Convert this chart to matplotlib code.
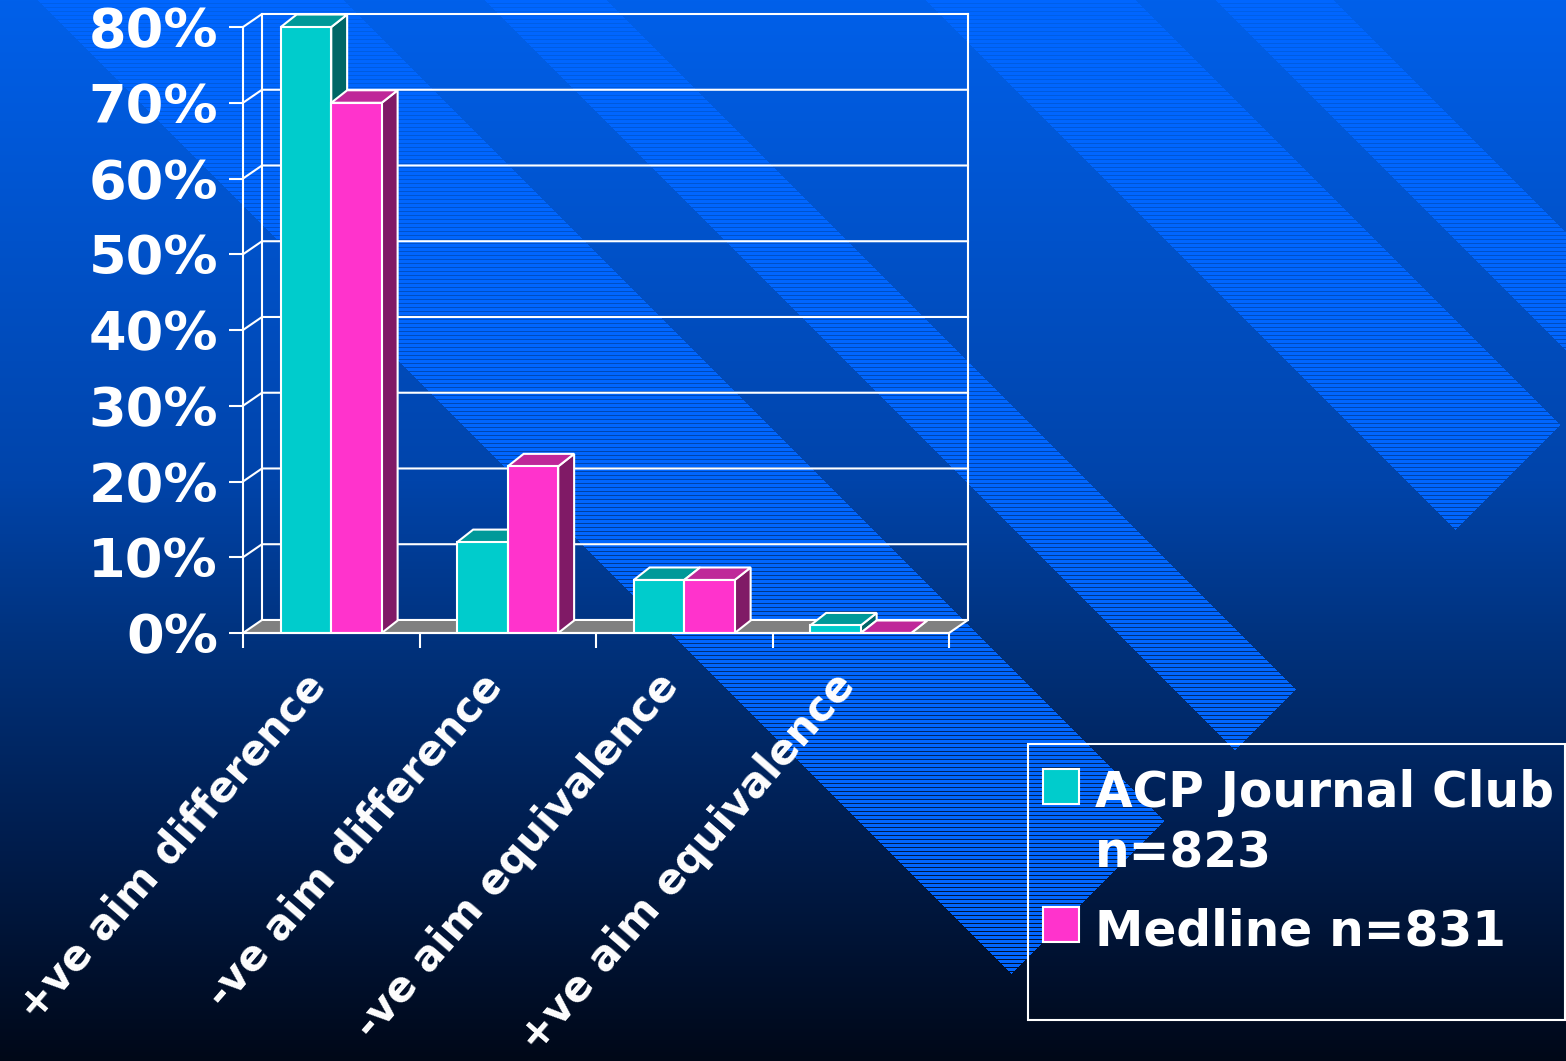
import numpy as np
import matplotlib
matplotlib.use('Agg')
import matplotlib.pyplot as plt
from matplotlib.patches import Polygon, Rectangle

categories = ['+ve aim difference', '-ve aim difference',
              '-ve aim equivalence', '+ve aim equivalence']
series_names = ['ACP Journal Club\nn=823', 'Medline n=831']
acp_values = [80, 12, 7, 1]
medline_values = [70, 22, 7, 0]
y_ticks = [0, 10, 20, 30, 40, 50, 60, 70, 80]

# front / top / side shades of each series
series_colors = [('#00CCCC', '#009999', '#006666'),
                 ('#FF33CC', '#BF2899', '#801A66')]

W, H = 1566, 1061
BAR_W = 0.286          # bar width in category units
BAR_DX, BAR_DY = 0.09, 1.65     # bar depth
WALL_DX, WALL_DY = 0.1075, 1.72  # back wall offset
LW = 1.5

plt.rcParams['font.family'] = ['DejaVu Sans']
plt.rcParams['font.weight'] = 'bold'


def make_background():
    yy, xx = np.mgrid[0:H, 0:W]
    rows = np.arange(H)
    stops = [0, 480, 640, 850, H - 1]
    green = np.interp(rows, stops, [96, 68, 50, 28, 8])
    blue = np.interp(rows, stops, [234, 170, 125, 75, 24])
    img = np.zeros((H, W, 3))
    img[..., 1] = green[:, None]
    img[..., 2] = blue[:, None]

    # diagonal striped bands, cut off along x + y = const
    u = xx - yy
    v = xx + yy
    band = np.zeros((H, W), bool)
    for lo, hi in [(38, 344), (485, 607), (926, 1136), (1216, 1334)]:
        band |= (u >= lo) & (u < hi)
    band &= v < 1985
    img[band & (yy % 4 != 3)] = [0, 102, 255]
    return img / 255


def draw_box_faces(ax, x0, value, colors, z):
    front, top, side = colors
    x1 = x0 + BAR_W
    ax.add_patch(Polygon([(x1, 0), (x1 + BAR_DX, BAR_DY),
                          (x1 + BAR_DX, value + BAR_DY), (x1, value)],
                         fc=side, ec='white', lw=LW, zorder=z))
    ax.add_patch(Polygon([(x0, value), (x1, value),
                          (x1 + BAR_DX, value + BAR_DY), (x0 + BAR_DX, value + BAR_DY)],
                         fc=top, ec='white', lw=LW, zorder=z))


fig = plt.figure(figsize=(W / 100, H / 100), dpi=100)

bg = fig.add_axes([0, 0, 1, 1])
bg.imshow(make_background(), aspect='auto', interpolation='nearest')
bg.axis('off')

ax = fig.add_axes([243 / W, (H - 633) / H, 725 / W, 619 / H])
ax.patch.set_visible(False)
n = len(categories)
ax.set_xlim(0, n + WALL_DX)
ax.set_ylim(0, y_ticks[-1] + WALL_DY)

# back wall and gridlines
top = y_ticks[-1] + WALL_DY
ax.plot([WALL_DX, WALL_DX], [WALL_DY, top], color='white', lw=LW, zorder=1, clip_on=False)
ax.plot([n + WALL_DX, n + WALL_DX], [WALL_DY, top], color='white', lw=LW, zorder=1, clip_on=False)
for t in y_ticks[1:]:
    ax.plot([0, WALL_DX, n + WALL_DX], [t, t + WALL_DY, t + WALL_DY],
            color='white', lw=LW, zorder=1, clip_on=False)

# floor
ax.add_patch(Polygon([(0, 0), (n, 0), (n + WALL_DX, WALL_DY), (WALL_DX, WALL_DY)],
                     fc='#808080', ec='white', lw=LW, zorder=1.5, clip_on=False))

# bars
x = np.arange(n)
for k, (vals, colors) in enumerate(zip([acp_values, medline_values], series_colors)):
    left = x + 0.5 - BAR_W + k * BAR_W
    for x0, v in zip(left, vals):
        draw_box_faces(ax, x0, v, colors, 2 + 2 * k)
    ax.bar(left, vals, width=BAR_W, align='edge', color=colors[0],
           edgecolor='white', linewidth=LW, zorder=3 + 2 * k)

# axes
for side in ['top', 'right']:
    ax.spines[side].set_visible(False)
ax.spines['left'].set_bounds(0, y_ticks[-1])
ax.spines['bottom'].set_bounds(0, n)
for side in ['left', 'bottom']:
    ax.spines[side].set_color('white')
    ax.spines[side].set_linewidth(LW)
    ax.spines[side].set_zorder(6)

ax.set_yticks(y_ticks, labels=[f'{t}%' for t in y_ticks])
ax.tick_params(axis='y', colors='white', length=10, width=LW, pad=8, labelsize=39)
ax.set_xticks(np.arange(n + 1), labels=[''] * (n + 1))
ax.tick_params(axis='x', colors='white', length=11, width=LW)

for i, name in enumerate(categories):
    ax.annotate(name, xy=(i + 0.5, 0), xycoords='data', xytext=(-13, -46),
                textcoords='offset pixels', rotation=49, rotation_mode='anchor',
                ha='right', va='center', fontsize=30, color='white',
                annotation_clip=False)

# legend box
def fx(px):
    return px / W


def fy(py):
    return 1 - py / H


fig.patches.append(Rectangle((fx(1028), fy(1020)), fx(1565) - fx(1028), fy(744) - fy(1020),
                             transform=fig.transFigure, fill=False, ec='white', lw=LW))
entry_top = 769
for name, colors in zip(series_names, series_colors):
    fig.patches.append(Rectangle((fx(1043), fy(entry_top + 35)), fx(1079) - fx(1043),
                                 fy(entry_top) - fy(entry_top + 35),
                                 transform=fig.transFigure, fc=colors[0], ec='white', lw=LW))
    lines = name.split('\n')
    for j, line in enumerate(lines):
        fig.text(fx(1095), fy(entry_top + 38 + 61 * j), line, fontsize=35,
                 color='white', va='baseline', ha='left')
    entry_top += 61 * len(lines) + 16

fig.savefig('out.png', dpi=100)
